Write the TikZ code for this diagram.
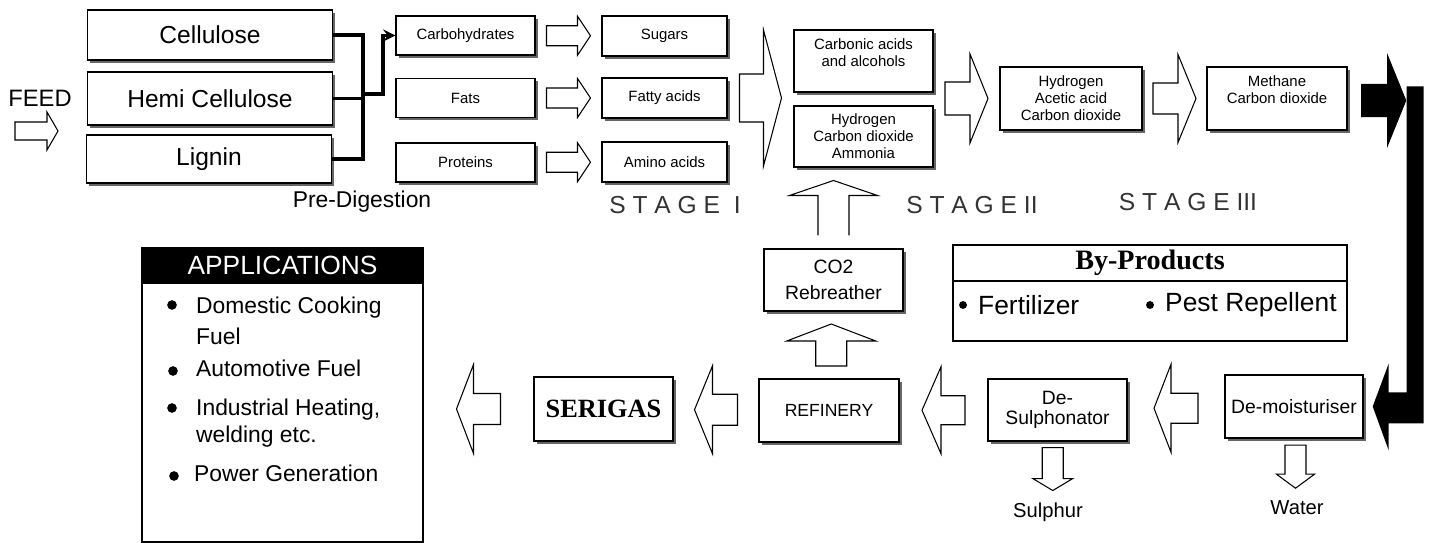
\documentclass[tikz,border=0pt]{standalone}
\usepackage{fontspec}
\setmainfont{Liberation Sans}
\newfontfamily\timesfont{Liberation Serif}
\usepackage{tikz}
\usetikzlibrary{arrows, positioning, calc, shadows}

% block arrow, pointing to +x, centred on its length
\tikzset{
  pics/blk/.style n args={4}{code={
    \draw[hollow] (-#1/2,-#3) -- (#1/2-#2,-#3) -- (#1/2-#2,-#4) -- (#1/2,0)
      -- (#1/2-#2,#4) -- (#1/2-#2,#3) -- (-#1/2,#3) -- cycle;
  }},
  pics/blkopen/.style n args={4}{code={
    \draw[hollow] (-#1/2,-#3) -- (#1/2-#2,-#3) -- (#1/2-#2,-#4) -- (#1/2,0)
      -- (#1/2-#2,#4) -- (#1/2-#2,#3) -- (-#1/2,#3);
  }},
}

\begin{document}
\begin{tikzpicture}[
    x=0.02cm, y=-0.02cm,
    box/.style={rectangle, draw, line width=0.8pt, fill=white, align=center, inner sep=1pt,
      font=\fontsize{8.5}{9.7}\selectfont,
      drop shadow={shadow xshift=1.5pt, shadow yshift=-1.5pt, fill=black!60, opacity=1}},
    feedbox/.style={box, line width=1pt, minimum width=4.9cm, font=\fontsize{14}{16}\selectfont},
    small/.style={box, minimum width=2.78cm, minimum height=0.78cm},
    mid/.style={box, minimum width=2.5cm, minimum height=0.8cm},
    big/.style={box, minimum width=2.78cm, minimum height=1.24cm},
    hollow/.style={draw, fill=white, line width=0.6pt},
    conn/.style={line width=2pt, >=stealth},
    stage/.style={font=\fontsize{14}{16}\selectfont, text=black!80},
    outlabel/.style={font=\fontsize{11.5}{13}\selectfont},
    item/.style={anchor=west, align=left, font=\fontsize{13}{18}\selectfont},
    dot/.style={circle, fill=black, inner sep=0pt, minimum size=5.5pt},
    panel/.style={rectangle, draw, line width=0.8pt, inner sep=0pt, minimum width=7.88cm}
]
    \fill[white] (0,0) rectangle (1433,543);
    \useasboundingbox (0,0) rectangle (1433,543);

    % Feed stock
    \node[font=\fontsize{13.5}{16}\selectfont] (feed) at (40,98) {FEED};
    \node[feedbox, minimum height=1cm] (cell) at (210,35) {Cellulose};
    \node[feedbox, minimum height=1.06cm] (hemi) at (210,98.5) {Hemi Cellulose};
    \node[feedbox, minimum height=0.96cm] (lignin) at (209,159) {Lignin};
    \node[font=\fontsize{13}{16}\selectfont] (predig) at (362,202) {Pre-Digestion};

    % Stage I
    \node[small] (carb) at (465.5,35.5) {Carbohydrates};
    \node[small] (fats) at (465.5,98) {Fats};
    \node[small] (prot) at (465.5,162.5) {Proteins};
    \node[mid] (sugar) at (664.5,36) {Sugars};
    \node[mid] (fatty) at (664.5,98) {Fatty acids};
    \node[mid] (amino) at (664.5,162) {Amino acids};

    % Stage II and III
    \node[big] (carbonic) at (863.5,61) {Carbonic acids\\and alcohols\\\mbox{}};
    \node[big, minimum height=1.22cm] (hydro) at (863.5,136.5) {Hydrogen\\Carbon dioxide\\Ammonia};
    \node[big, minimum width=2.84cm, minimum height=1.26cm] (acetic) at (1071,98.5) {Hydrogen\\Acetic acid\\Carbon dioxide};
    \node[big, minimum width=2.8cm, minimum height=1.26cm] (methane) at (1277,98.5) {Methane\\Carbon dioxide\\\mbox{}};

    \node[stage] (st1) at (675,205) {S T A G E \ I};
    \node[stage] (st2) at (972,205) {S T A G E II};
    \node[stage] (st3) at (1188,202) {S T A G E III};

    % Gas cleaning line
    \node[big, font=\fontsize{11}{15}\selectfont] (co2) at (833.5,280) {CO2\\Rebreather};
    \node[big, minimum width=2.8cm, minimum height=1.26cm, font=\fontsize{10}{12}\selectfont] (refinery) at (829,410.5) {REFINERY};
    \node[big, minimum height=1.28cm, font=\timesfont\bfseries\fontsize{15}{17}\selectfont] (serigas) at (603.5,409) {SERIGAS};
    \node[big, font=\fontsize{11}{11.4}\selectfont] (desulph) at (1057.5,410) {De-\\Sulphonator};
    \node[big, minimum width=2.76cm, minimum height=1.26cm, font=\fontsize{11}{13}\selectfont] (demoist) at (1294,406.5) {De-moisturiser};
    \node[outlabel] (sulphur) at (1048,512) {Sulphur};
    \node[outlabel] (water) at (1297,508) {Water};

    % By-products
    \node[panel, minimum height=0.72cm, font=\timesfont\bfseries\fontsize{16}{18}\selectfont] (byhead) at (1150,263) {By-Products};
    \node[panel, minimum height=1.2cm] (bybody) at (1150,311) {};
    \node[dot, minimum size=4.5pt] (b1) at (963,305) {};
    \node[anchor=west, font=\fontsize{15}{17}\selectfont] (fert) at (972,305) {Fertilizer};
    \node[dot, minimum size=4.5pt] (b2) at (1150,305) {};
    \node[anchor=west, font=\fontsize{15}{17}\selectfont] (pest) at (1159,305) {Pest Repellent};

    % Applications
    \node[panel, minimum width=5.62cm, minimum height=5.18cm] (appbody) at (282.5,412.5) {};
    \node[panel, minimum width=5.62cm, minimum height=0.7cm, fill=black, text=white,
      font=\fontsize{15}{17}\selectfont] (apphead) at (282.5,265.5) {APPLICATIONS};
    \node[dot] (d1) at (172,305) {};
    \node[item] (i1) at (190,321) {Domestic Cooking\\Fuel};
    \node[dot] (d2) at (173,371) {};
    \node[item] (i2) at (190,368) {Automotive Fuel};
    \node[dot] (d3) at (172,408) {};
    \node[item, font=\fontsize{13}{15.5}\selectfont] (i3) at (190,423) {Industrial Heating,\\welding etc.};
    \node[dot] (d4) at (174,476) {};
    \node[item] (i4) at (188,473) {Power Generation};

    % Pre-digestion connectors
    \coordinate (jn) at (363,94);
    \draw[conn] (cell.east) -- (cell.east -| jn) -- (lignin.east -| jn) -- (lignin.east);
    \draw[conn] (hemi.east) -- (hemi.east -| jn);
    \draw[conn, ->] (jn) -- ++(20,0) |- (carb.west);

    % Block arrows
    \pic at ($(feed)+(-3.5,33)$) {blk={43}{11}{9}{19}};
    \pic at ($(carb.east)!0.5!(sugar.west)$) {blk={44}{13}{10}{19.5}};
    \pic at ($(fats.east)!0.5!(fatty.west)$) {blk={44}{13}{10}{19.5}};
    \pic at ($(prot.east)!0.5!(amino.west)$) {blk={44}{13}{10}{19.5}};
    \pic at ($(fatty.east)!0.5!(carbonic.west |- fatty)$) {blk={42}{18}{24}{68}};
    \pic at ($(carbonic.east |- acetic.west)!0.5!(acetic.west)$) {blk={43}{18}{16.5}{44.5}};
    \pic at ($(acetic.east)!0.5!(methane.west)$) {blk={43}{18}{15.5}{44}};
    \pic[hollow/.append style={fill=black}] at ($(methane.east)+(36,2)$) {blk={44}{18}{16}{44.5}};
    \pic[rotate=180] at ($(demoist.west)!0.5!(desulph.east)$) {blk={44}{17}{15}{44}};
    \pic[rotate=180] at ($(desulph.west)!0.5!(refinery.east)$) {blk={43}{19}{14.5}{43.5}};
    \pic[rotate=180] at ($(refinery.west)!0.5!(serigas.east)$) {blk={43}{18}{15.5}{44}};
    \pic[rotate=180] at ($(serigas.west)!0.5!(appbody.east |- serigas.west)$) {blk={44}{17}{15.5}{44.5}};
    \pic[rotate=90] at ($(refinery.north)!0.5!(co2.south)$) {blk={42}{17}{15.5}{44.5}};
    \pic[rotate=90] at ($(co2.north)!0.5!(co2.north |- hydro.south)$) {blkopen={55}{15}{15.5}{44}};
    \pic[rotate=-90] at ($(desulph.south)!0.5!(sulphur.north)$) {blk={43}{12}{10.5}{20}};
    \pic[rotate=-90] at ($(demoist.south)!0.5!(water.north)$) {blk={43}{14}{10.5}{19}};

    % Gas line from stage III down to the de-moisturiser
    \fill[black] ($(demoist.east)+(9,0)$) -- ++(16,-43) -- ++(0,29) -- ++(18,0) -- ++(0,-306)
      -- ++(17,0) -- ++(0,337) -- ++(-35,0) -- ++(0,27) -- cycle;
\end{tikzpicture}
\end{document}
